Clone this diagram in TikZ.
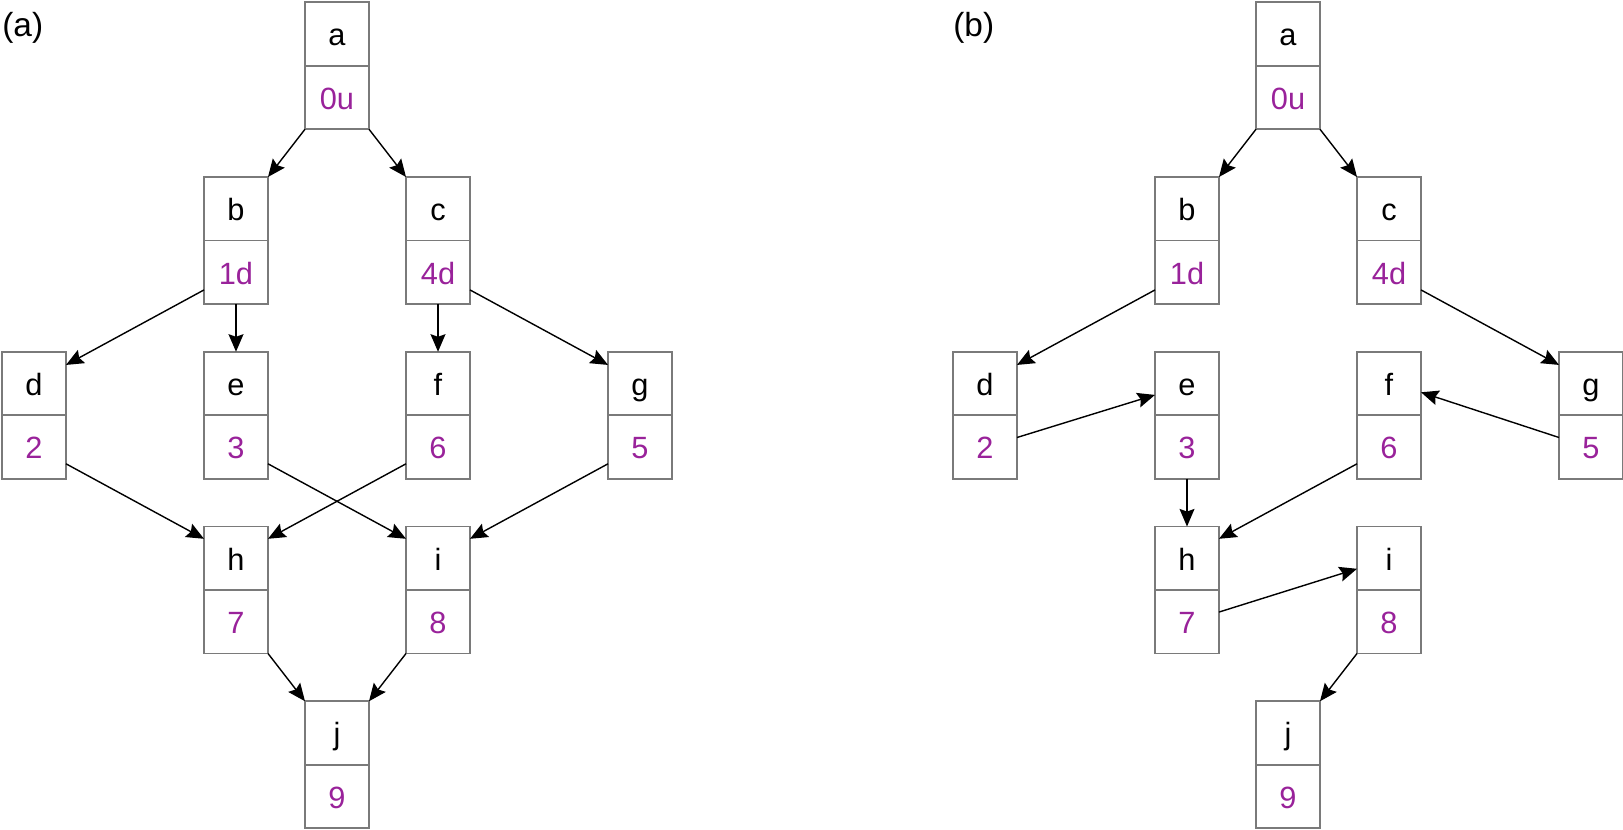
\documentclass[tikz,border=0pt]{standalone}
\usepackage{fontspec}
\setmainfont{Liberation Sans}
\usetikzlibrary{arrows.meta,positioning}
\definecolor{plum}{HTML}{99229A}
\definecolor{rim}{HTML}{7A7A7A}
\tikzset{
  cell/.style={draw=rim,line width=0.9pt,minimum width=1.28cm,minimum height=1.27cm,inner sep=0pt,outer sep=0pt,text height=16.5pt,text depth=3pt,font=\fontsize{17.5}{21}\selectfont},
  vcell/.style={cell,text=plum},
  lbl/.style={font=\fontsize{19}{23}\selectfont,inner sep=0pt},
  ar/.style={-{Stealth[length=10pt,width=8.5pt,inset=1.5pt]},line width=0.8pt},
}
\newcommand{\pcell}[4]{%
  \node[cell] (#1) at (#2) {#3};
  \node[vcell,below=0pt of #1] (#1v) {#4};}

\begin{document}
\begin{tikzpicture}[x=0.02cm,y=-0.02cm]
  \useasboundingbox (0,0) rectangle (1623,830);
  \node[lbl,anchor=base west] (pa) at (2,37) {(a)};
  \node[lbl,anchor=base west] (pb) at (953,37) {(b)};

  \pcell{a1}{337,34}{a}{0u}
  \pcell{b1}{236,208.75}{b}{1d}
  \pcell{c1}{438,208.75}{c}{4d}
  \pcell{d1}{34,383.5}{d}{2}
  \pcell{e1}{236,383.5}{e}{3}
  \pcell{f1}{438,383.5}{f}{6}
  \pcell{g1}{640,383.5}{g}{5}
  \pcell{h1}{236,558.25}{h}{7}
  \pcell{i1}{438,558.25}{i}{8}
  \pcell{j1}{337,733}{j}{9}

  \draw[ar] (a1v.south west) -- (b1.north east);
  \draw[ar] (a1v.south east) -- (c1.north west);
  \draw[ar] ([yshift=8pt]b1v.south west) -- ([yshift=-7.5pt]d1.north east);
  \draw[ar] (b1v.south) -- (e1.north);
  \draw[ar] (c1v.south) -- (f1.north);
  \draw[ar] ([yshift=8pt]c1v.south east) -- ([yshift=-7.5pt]g1.north west);
  \draw[ar] ([yshift=8.5pt]d1v.south east) -- ([yshift=-7pt]h1.north west);
  \draw[ar] ([yshift=8.5pt]e1v.south east) -- ([yshift=-7pt]i1.north west);
  \draw[ar] ([yshift=8.5pt]f1v.south west) -- ([yshift=-7pt]h1.north east);
  \draw[ar] ([yshift=8.5pt]g1v.south west) -- ([yshift=-7pt]i1.north east);
  \draw[ar] (h1v.south east) -- (j1.north west);
  \draw[ar] (i1v.south west) -- (j1.north east);

  \pcell{a2}{1288,34}{a}{0u}
  \pcell{b2}{1187,208.75}{b}{1d}
  \pcell{c2}{1389,208.75}{c}{4d}
  \pcell{d2}{985,383.5}{d}{2}
  \pcell{e2}{1187,383.5}{e}{3}
  \pcell{f2}{1389,383.5}{f}{6}
  \pcell{g2}{1591,383.5}{g}{5}
  \pcell{h2}{1187,558.25}{h}{7}
  \pcell{i2}{1389,558.25}{i}{8}
  \pcell{j2}{1288,733}{j}{9}

  \draw[ar] (a2v.south west) -- (b2.north east);
  \draw[ar] (a2v.south east) -- (c2.north west);
  \draw[ar] ([yshift=8pt]b2v.south west) -- ([yshift=-7.5pt]d2.north east);
  \draw[ar] ([yshift=8pt]c2v.south east) -- ([yshift=-7.5pt]g2.north west);
  \draw[ar] ([yshift=5.4pt]d2v.east) -- ([yshift=-6.5pt]e2.west);
  \draw[ar] ([yshift=5.4pt]g2v.west) -- ([yshift=-5pt]f2.east);
  \draw[ar] (e2v.south) -- (h2.north);
  \draw[ar] ([yshift=8.5pt]f2v.south west) -- ([yshift=-7pt]h2.north east);
  \draw[ar] ([yshift=5.5pt]h2v.east) -- ([yshift=-6pt]i2.west);
  \draw[ar] (i2v.south west) -- (j2.north east);
\end{tikzpicture}
\end{document}
